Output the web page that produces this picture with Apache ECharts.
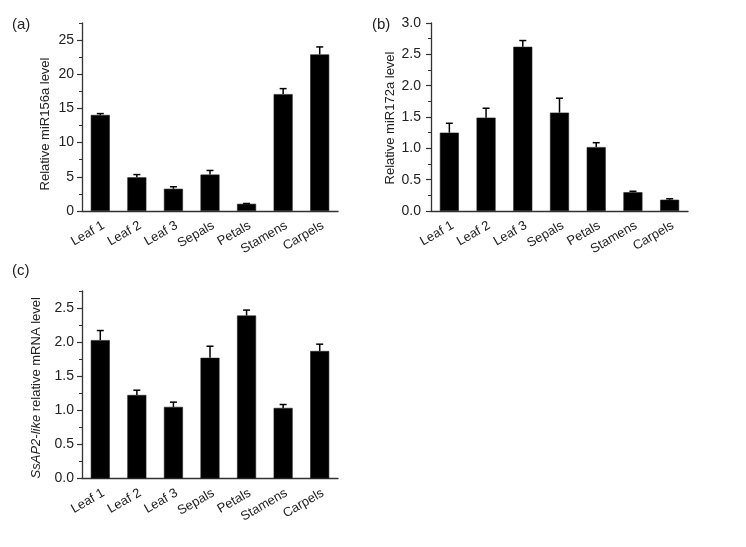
<!DOCTYPE html>
<html>
<head>
<meta charset="utf-8">
<script src="https://cdn.jsdelivr.net/npm/echarts@6/dist/echarts.min.js"></script>
<style>
html,body{margin:0;padding:0;background:#fff;}
#chart{width:746px;height:547px;}
</style>
</head>
<body>
<div id="chart"></div>
<script>
const categories = ['Leaf 1', 'Leaf 2', 'Leaf 3', 'Sepals', 'Petals', 'Stamens', 'Carpels'];

const miR156aMean = [14.05, 4.93, 3.25, 5.33, 1.05, 17.1, 22.9];
const miR156aErr  = [0.2, 0.4, 0.3, 0.6, 0.05, 0.8, 1.1];

const miR172aMean = [1.25, 1.49, 2.62, 1.57, 1.02, 0.30, 0.18];
const miR172aErr  = [0.15, 0.15, 0.10, 0.23, 0.07, 0.015, 0.015];

const ap2Mean = [2.03, 1.225, 1.05, 1.77, 2.39, 1.035, 1.87];
const ap2Err  = [0.14, 0.07, 0.07, 0.17, 0.08, 0.05, 0.10];

const ticksA = [0, 5, 10, 15, 20, 25];
const ticksB = [0, 0.5, 1.0, 1.5, 2.0, 2.5, 3.0];
const ticksC = [0, 0.5, 1.0, 1.5, 2.0, 2.5];

const panelLabels = ['(a)', '(b)', '(c)'];
const yNames = ['Relative miR156a level', 'Relative miR172a level', '{i|SsAP2-like} relative mRNA level'];

const FONT = 'Liberation Sans, Arial, sans-serif';
const AXIS_COLOR = '#333';
const TEXT_COLOR = '#222';

const grids = [
  { left: 82, top: 23, width: 256, height: 188 },
  { left: 431, top: 23, width: 257, height: 188 },
  { left: 82, top: 291, width: 256, height: 187.5 }
];

const panels = [
  { mean: miR156aMean, err: miR156aErr, ticks: ticksA, max: 27.5, minor: 2.5, dec: 0, gap: 30, namePad: [0, 14, 0, 0], labMargin: 8 },
  { mean: miR172aMean, err: miR172aErr, ticks: ticksB, max: 3.0, minor: 0.25, dec: 1, gap: 34, namePad: [0, 2, 0, 0], labMargin: 10 },
  { mean: ap2Mean, err: ap2Err, ticks: ticksC, max: 2.75, minor: 0.25, dec: 1, gap: 39, namePad: [0, 6, 0, 0], labMargin: 8 }
];

const xAxes = [], yAxes = [], series = [];
panels.forEach((p, k) => {
  xAxes.push({
    type: 'category', gridIndex: k, data: categories, boundaryGap: true,
    axisLine: { lineStyle: { color: AXIS_COLOR, width: 1.3 } },
    axisTick: { show: false },
    axisLabel: { rotate: 30, margin: 8, verticalAlign: 'top', fontSize: 13, color: TEXT_COLOR, fontFamily: FONT, interval: 0 }
  });
  // main axis: labels + major ticks
  yAxes.push({
    type: 'value', gridIndex: k, position: 'left', min: 0, max: p.max,
    name: yNames[k], nameLocation: 'middle', nameGap: p.gap, nameRotate: 90,
    nameTextStyle: { fontSize: 13, color: TEXT_COLOR, fontFamily: FONT, padding: p.namePad,
      rich: { i: { fontStyle: 'italic', fontSize: 13, color: TEXT_COLOR, fontFamily: FONT } } },
    axisLine: { show: true, lineStyle: { color: AXIS_COLOR, width: 1.3 } },
    axisTick: { show: true, length: 5, customValues: p.ticks, lineStyle: { color: AXIS_COLOR, width: 1.2 } },
    axisLabel: { customValues: p.ticks, fontSize: 14, color: TEXT_COLOR, fontFamily: FONT, margin: p.labMargin,
      formatter: v => Number(v).toFixed(p.dec) },
    splitLine: { show: false }
  });
  // minor ticks axis
  yAxes.push({
    type: 'value', gridIndex: k, position: 'left', offset: 0, min: 0, max: p.max, interval: p.minor,
    axisLine: { show: false },
    axisTick: { show: true, length: 3, lineStyle: { color: AXIS_COLOR, width: 1 } },
    axisLabel: { show: false },
    splitLine: { show: false }
  });
  series.push({
    type: 'bar', xAxisIndex: k, yAxisIndex: 2 * k, data: p.mean, barWidth: 19,
    itemStyle: { color: '#000', borderColor: '#222', borderWidth: 0.6 }, z: 2, silent: true
  });
  series.push({
    type: 'custom', xAxisIndex: k, yAxisIndex: 2 * k, z: 3, silent: true,
    encode: { x: 0, y: 1 },
    data: categories.map((c, i) => [i, p.mean[i], p.err[i]]),
    renderItem: (params, api) => {
      const x = api.value(0), m = api.value(1), e = api.value(2);
      const p0 = api.coord([x, m]);
      const p1 = api.coord([x, m + e]);
      const hw = 3.5;
      return {
        type: 'group',
        children: [
          { type: 'line', shape: { x1: p0[0], y1: p0[1], x2: p1[0], y2: p1[1] },
            style: { stroke: '#000', lineWidth: 1.5 } },
          { type: 'line', shape: { x1: p1[0] - hw, y1: p1[1], x2: p1[0] + hw, y2: p1[1] },
            style: { stroke: '#000', lineWidth: 1.5 } }
        ]
      };
    }
  });
});

const graphic = [
  { type: 'text', left: 12, top: 17, style: { text: panelLabels[0], fontSize: 15, fill: TEXT_COLOR, fontFamily: FONT } },
  { type: 'text', left: 372, top: 17, style: { text: panelLabels[1], fontSize: 15, fill: TEXT_COLOR, fontFamily: FONT } },
  { type: 'text', left: 12, top: 263, style: { text: panelLabels[2], fontSize: 15, fill: TEXT_COLOR, fontFamily: FONT } }
];

const chart = echarts.init(document.getElementById('chart'), null, { renderer: 'canvas' });
chart.setOption({
  animation: false,
  backgroundColor: '#fff',
  grid: grids,
  xAxis: xAxes,
  yAxis: yAxes,
  series: series,
  graphic: graphic
});
</script>
</body>
</html>
